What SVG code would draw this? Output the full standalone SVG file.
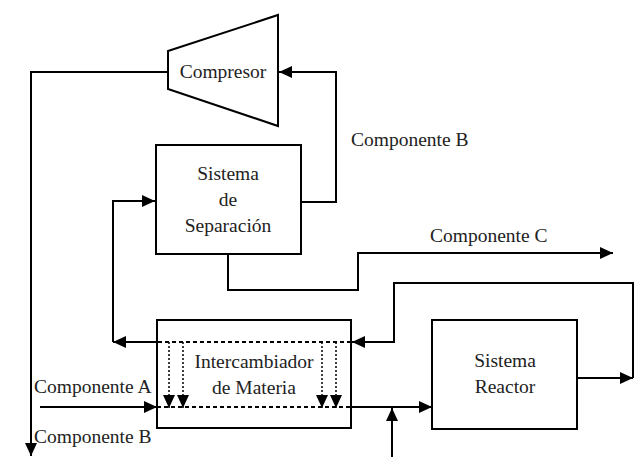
<svg xmlns="http://www.w3.org/2000/svg" width="635" height="457" viewBox="0 0 635 457">
<style>
.box{fill:#fff;stroke:#000;stroke-width:2}
.ln{fill:none;stroke:#000;stroke-width:2}
.dash{fill:none;stroke:#000;stroke-width:2;stroke-dasharray:4 3}
.dot{fill:none;stroke:#000;stroke-width:1.5;stroke-dasharray:2 2}
.t{font-family:'Liberation Serif','Times New Roman',Tinos,'Noto Serif','DejaVu Serif',serif;font-size:19.5px;fill:#222}
.c{text-anchor:middle}
</style>
<defs>
<marker id="ah" markerUnits="userSpaceOnUse" markerWidth="14" markerHeight="12" refX="13" refY="6" orient="auto">
<path d="M0,0 L13,6 L0,12 Z" fill="#000"/>
</marker>
</defs>
<g id="compresor">
<polygon class="box" points="168,51 278,15 278,126 168,89"/>
<text class="t c" x="223" y="78">Compresor</text>
</g>
<g id="separacion">
<rect class="box" x="156" y="145" width="145" height="109"/>
<text class="t c" x="228" y="180">Sistema</text>
<text class="t c" x="228" y="206">de</text>
<text class="t c" x="228" y="232">Separación</text>
</g>
<g id="intercambiador">
<rect class="box" x="157" y="320" width="194" height="108"/>
<text class="t c" x="254" y="368">Intercambiador</text>
<text class="t c" x="254" y="394">de Materia</text>
</g>
<g id="reactor">
<rect class="box" x="432" y="320" width="145" height="109"/>
<text class="t c" x="505" y="367">Sistema</text>
<text class="t c" x="505" y="393">Reactor</text>
</g>
<g id="connectors">
<path class="ln" d="M168,72 H31 V456" marker-end="url(#ah)"/>
<path class="ln" d="M301,202 H336 V72 H279" marker-end="url(#ah)"/>
<path class="ln" d="M228,254 V290 H358 V253 H613" marker-end="url(#ah)"/>
<path class="ln" d="M577,378 H633" marker-end="url(#ah)"/>
<path class="ln" d="M633,378 V283 H394 V342 H352" marker-end="url(#ah)"/>
<path class="dash" d="M351,342 H157"/>
<path class="ln" d="M157,342 H113" marker-end="url(#ah)"/>
<path class="ln" d="M113,342 V201 H155" marker-end="url(#ah)"/>
<path class="ln" d="M40,407 H157" marker-end="url(#ah)"/>
<path class="dash" d="M157,407 H351"/>
<path class="ln" d="M351,407 H432" marker-end="url(#ah)"/>
<path class="ln" d="M392,457 V408" marker-end="url(#ah)"/>
<path class="dot" d="M169,342 V408" marker-end="url(#ah)"/>
<path class="dot" d="M183,342 V408" marker-end="url(#ah)"/>
<path class="dot" d="M322,342 V408" marker-end="url(#ah)"/>
<path class="dot" d="M336,342 V408" marker-end="url(#ah)"/>
</g>
<g id="labels">
<text class="t" x="351" y="146">Componente B</text>
<text class="t" x="430" y="242">Componente C</text>
<text class="t" x="34" y="393">Componente A</text>
<text class="t" x="34" y="443">Componente B</text>
</g>
</svg>
